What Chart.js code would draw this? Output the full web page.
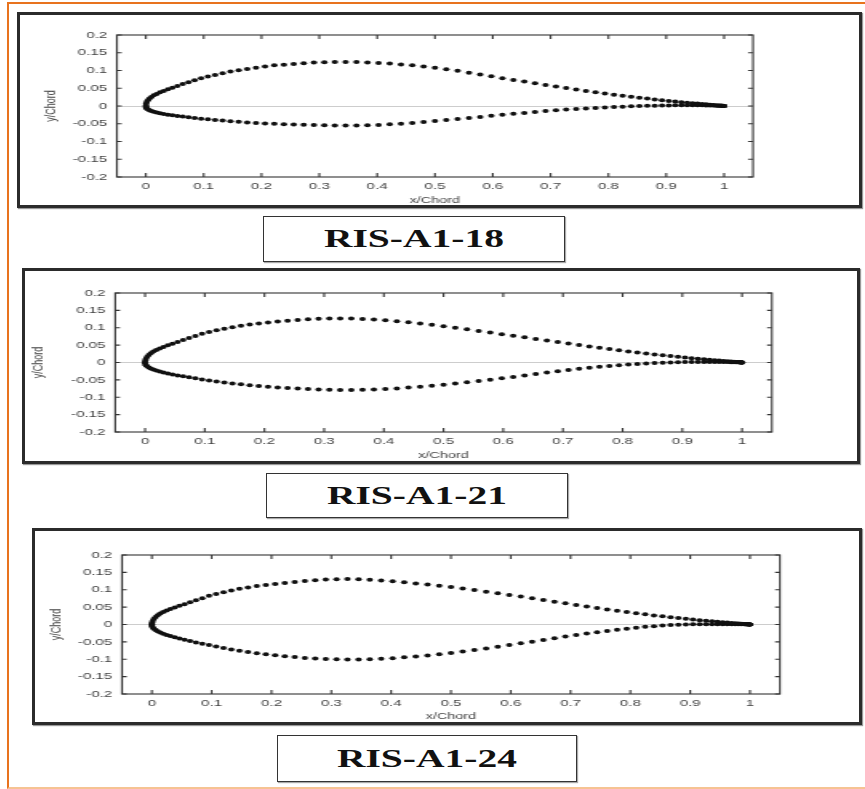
<!DOCTYPE html>
<html><head><meta charset="utf-8">
<script src="https://cdn.jsdelivr.net/npm/chart.js@4"></script>
<style>
body{margin:0;background:#fff;width:865px;height:789px;position:relative;overflow:hidden;font-family:"Liberation Sans",Arial,sans-serif}
.frame{position:absolute;left:7px;top:2px;width:870px;height:783px;border-left:2px solid #E8731E;border-top:2px solid #E8731E;border-bottom:2px solid #F6C393}
.panel{position:absolute;box-sizing:border-box;border:3px solid #2b2b2b;box-shadow:1px 1px 1px #999;background:#fff}
.cv{position:absolute;left:0;top:0;transform:scaleX(1.6);transform-origin:0 0}
.lab{position:absolute;box-sizing:border-box;border:1.5px solid #333;box-shadow:1px 1px 1px #aaa;background:#fff;display:flex;align-items:center;justify-content:center}
.lab span{display:inline-block;font-family:"Liberation Serif","Times New Roman",serif;font-weight:bold;font-size:25px;transform:scaleX(1.58);color:#111}
</style></head>
<body>
<div class="frame"></div>
<div class="panel" style="left:17px;top:12px;width:845px;height:196px"><div class="cv" style="width:524.4px;height:190px"><canvas id="c1"></canvas></div></div>
<div class="lab" style="left:263px;top:216px;width:302px;height:46px"><span id="t1"></span></div>
<div class="panel" style="left:22px;top:268px;width:838px;height:196px"><div class="cv" style="width:520px;height:190px"><canvas id="c2"></canvas></div></div>
<div class="lab" style="left:266px;top:473px;width:302px;height:45px"><span id="t2"></span></div>
<div class="panel" style="left:32px;top:528px;width:830px;height:197px"><div class="cv" style="width:515px;height:191px"><canvas id="c3"></canvas></div></div>
<div class="lab" style="left:277px;top:735px;width:300px;height:47px"><span id="t3"></span></div>
<script>
const airfoilNames = ['RIS-A1-18','RIS-A1-21','RIS-A1-24'];
const xAxisTitle = 'x/Chord';
const yAxisTitle = 'y/Chord';
const xTickValues = [0,0.1,0.2,0.3,0.4,0.5,0.6,0.7,0.8,0.9,1];
const xTickLabels = ['0','0.1','0.2','0.3','0.4','0.5','0.6','0.7','0.8','0.9','1'];
const yTickValues = [-0.2,-0.15,-0.1,-0.05,0,0.05,0.1,0.15,0.2];
const yTickLabels = ['-0.2','-0.15','-0.1','-0.05','0','0.05','0.1','0.15','0.2'];

const xStations = [0,0.0004,0.0015,0.0035,0.0062,0.0096,0.0138,0.0188,0.0245,0.0309,
0.0381,0.0459,0.0545,0.0638,0.0737,0.0843,0.0955,0.1073,0.1198,0.1328,
0.1464,0.1606,0.1753,0.1905,0.2061,0.2222,0.2388,0.2557,0.2730,0.2907,
0.3087,0.3269,0.3455,0.3643,0.3833,0.4025,0.4218,0.4412,0.4608,0.4804,
0.5,0.5196,0.5392,0.5588,0.5782,0.5975,0.6167,0.6357,0.6545,0.6731,
0.6913,0.7093,0.7270,0.7443,0.7612,0.7778,0.7939,0.8096,0.8247,0.8394,
0.8536,0.8672,0.8802,0.8927,0.9045,0.9157,0.9263,0.9363,0.9455,0.9541,
0.9619,0.9691,0.9755,0.9812,0.9862,0.9904,0.9938,0.9965,0.9985,0.9996,1];

const ris18Upper = [0,0.006,0.011,0.016,0.021,0.0256,0.030,0.034,0.0385,0.0425,
0.047,0.0515,0.0565,0.062,0.067,0.0725,0.078,0.083,0.0875,0.092,
0.097,0.1005,0.104,0.108,0.111,0.1145,0.1165,0.1185,0.1205,0.1222,
0.1232,0.1238,0.124,0.1237,0.1228,0.1213,0.1195,0.1172,0.1145,0.1115,
0.108,0.1035,0.099,0.094,0.089,0.0838,0.0785,0.0735,0.069,0.064,
0.0595,0.055,0.0505,0.0465,0.0425,0.039,0.0355,0.032,0.029,0.026,
0.0233,0.0208,0.0185,0.0163,0.0143,0.0125,0.0108,0.0093,0.008,0.0067,
0.0056,0.0046,0.0037,0.0029,0.0022,0.0016,0.0011,0.0007,0.0004,0.0002,0];
const ris18Lower = [0,-0.004,-0.007,-0.0095,-0.012,-0.0143,-0.0165,-0.0185,-0.0205,-0.0226,
-0.0245,-0.0263,-0.0281,-0.0298,-0.0318,-0.0338,-0.0357,-0.0373,-0.0391,-0.0409,
-0.0428,-0.0446,-0.0462,-0.0477,-0.0491,-0.0503,-0.0513,-0.0522,-0.053,-0.0538,
-0.0544,-0.0548,-0.055,-0.0548,-0.0542,-0.0532,-0.0517,-0.0498,-0.0476,-0.0451,
-0.0424,-0.0396,-0.0367,-0.0338,-0.0308,-0.0278,-0.0249,-0.0221,-0.0194,-0.0168,
-0.0144,-0.0122,-0.0102,-0.0084,-0.0068,-0.0053,-0.004,-0.0028,-0.0018,-0.0009,
-0.0002,0.0004,0.0009,0.0013,0.0016,0.0018,0.0019,0.002,0.002,0.0019,
0.0018,0.0016,0.0014,0.0012,0.001,0.0008,0.0006,0.0004,0.0002,0.0001,0];

const ris21Upper = [0,0.006,0.011,0.0165,0.0215,0.0267,0.0313,0.0357,0.0402,0.0446,
0.0495,0.0542,0.0593,0.0646,0.0702,0.0762,0.0825,0.0875,0.0925,0.0972,
0.1015,0.1055,0.109,0.1122,0.1152,0.1178,0.1202,0.1224,0.1242,0.1256,
0.1266,0.1268,0.1264,0.1254,0.1237,0.1213,0.1186,0.1156,0.1122,0.1083,
0.104,0.0997,0.0954,0.091,0.0864,0.0816,0.0771,0.0725,0.0679,0.0635,
0.0591,0.0548,0.0505,0.0464,0.0425,0.0389,0.0354,0.032,0.0288,0.0259,
0.0233,0.0209,0.0186,0.0163,0.0143,0.0125,0.0108,0.0093,0.008,0.0067,
0.0056,0.0046,0.0037,0.0029,0.0022,0.0016,0.0011,0.0007,0.0004,0.0002,0];
const ris21Lower = [0,-0.0045,-0.008,-0.011,-0.0141,-0.0172,-0.02,-0.0229,-0.0256,-0.0285,
-0.0315,-0.0345,-0.0373,-0.0399,-0.0427,-0.0456,-0.0486,-0.0515,-0.0544,-0.0572,
-0.0602,-0.0628,-0.0652,-0.0675,-0.0698,-0.0716,-0.0734,-0.075,-0.0763,-0.0775,
-0.0784,-0.0788,-0.079,-0.0786,-0.0777,-0.0763,-0.0745,-0.0723,-0.0697,-0.0669,
-0.064,-0.0606,-0.0571,-0.0534,-0.0496,-0.0456,-0.0414,-0.0373,-0.0331,-0.0291,
-0.0253,-0.0217,-0.0183,-0.0153,-0.0125,-0.0099,-0.0076,-0.0057,-0.0041,-0.0027,
-0.0016,-0.0007,0.0001,0.0007,0.0011,0.0013,0.0015,0.0015,0.0015,0.0014,
0.0013,0.0012,0.0011,0.0009,0.0007,0.0006,0.0004,0.0003,0.0002,0.0001,0];

const ris24Upper = [0,0.006,0.011,0.0165,0.0215,0.0267,0.0313,0.0357,0.0402,0.0446,
0.0492,0.0537,0.0586,0.064,0.0695,0.0752,0.0825,0.0878,0.0928,0.0978,
0.1026,0.1068,0.1105,0.1138,0.1168,0.1197,0.1224,0.125,0.1273,0.1292,
0.1304,0.1308,0.1302,0.1288,0.1268,0.1243,0.1214,0.1183,0.115,0.1115,
0.108,0.1035,0.0991,0.0946,0.0899,0.085,0.0803,0.0754,0.0706,0.0658,
0.0611,0.0564,0.0519,0.0476,0.0435,0.0396,0.0359,0.0324,0.0292,0.0262,
0.0235,0.021,0.0186,0.0164,0.0144,0.0125,0.0108,0.0093,0.008,0.0067,
0.0056,0.0046,0.0037,0.0029,0.0022,0.0016,0.0011,0.0007,0.0004,0.0002,0];
const ris24Lower = [0,-0.005,-0.009,-0.0125,-0.0161,-0.0196,-0.0232,-0.0266,-0.0299,-0.0334,
-0.0366,-0.0401,-0.0438,-0.0476,-0.0516,-0.0554,-0.0592,-0.0632,-0.0674,-0.0716,
-0.0758,-0.0794,-0.0827,-0.0858,-0.0885,-0.0912,-0.0938,-0.0961,-0.0979,-0.0994,
-0.1003,-0.1006,-0.1005,-0.0997,-0.0984,-0.0968,-0.0944,-0.0919,-0.0891,-0.0857,
-0.082,-0.0779,-0.0736,-0.0691,-0.0643,-0.0593,-0.0543,-0.0493,-0.0443,-0.0395,
-0.0348,-0.0303,-0.026,-0.0221,-0.0184,-0.015,-0.0119,-0.0091,-0.0067,-0.0047,
-0.003,-0.0017,-0.0007,0,0.0005,0.0008,0.001,0.001,0.001,0.001,
0.0009,0.0008,0.0007,0.0006,0.0005,0.0004,0.0003,0.0002,0.0001,0,0];

const FONT = '"Liberation Sans", Arial, sans-serif';

const boxTicks = {
  id: 'boxTicks',
  afterDatasetsDraw(chart, args, o) {
    const {ctx, chartArea: a, scales: {x, y}} = chart;
    ctx.save();
    ctx.strokeStyle = o.color; ctx.lineWidth = o.width;
    ctx.strokeRect(a.left, a.top, a.right - a.left, a.bottom - a.top);
    ctx.beginPath();
    x.ticks.forEach(t => {
      const p = x.getPixelForValue(t.value);
      ctx.moveTo(p, a.bottom); ctx.lineTo(p, a.bottom - o.lenX);
      ctx.moveTo(p, a.top); ctx.lineTo(p, a.top + o.lenX);
    });
    y.ticks.forEach(t => {
      const p = y.getPixelForValue(t.value);
      ctx.moveTo(a.left, p); ctx.lineTo(a.left + o.lenY, p);
      ctx.moveTo(a.right, p); ctx.lineTo(a.right - o.lenY, p);
    });
    ctx.stroke();
    ctx.restore();
  }
};

function build(id, upper, lower, g) {
  const pts = arr => xStations.map((x, i) => ({x: x, y: arr[i]}));
  new Chart(document.getElementById(id), {
    type: 'scatter',
    data: {datasets: [
      {data: pts(upper), backgroundColor: '#111', borderWidth: 0, pointRadius: 2, pointHoverRadius: 2},
      {data: pts(lower), backgroundColor: '#111', borderWidth: 0, pointRadius: 2, pointHoverRadius: 2}
    ]},
    plugins: [boxTicks],
    options: {
      responsive: true, maintainAspectRatio: false, animation: false, events: [],
      layout: {padding: {left: 0, right: g.right, top: g.top, bottom: 0}},
      plugins: {legend: {display: false}, tooltip: {enabled: false},
        boxTicks: {color: '#333', width: 1.1, lenX: 4, lenY: 3}},
      scales: {
        x: {type: 'linear', min: -0.05, max: 1.05,
          afterBuildTicks: s => { s.ticks = xTickValues.map(v => ({value: v})); },
          afterFit: s => { s.height = g.xh; },
          grid: {display: false, drawTicks: false}, border: {display: false},
          ticks: {padding: 4, autoSkip: false, maxRotation: 0, color: '#444', font: {size: 9.5, family: FONT},
            callback: (v, i) => xTickLabels[i]},
          title: {display: true, text: xAxisTitle, color: '#444', font: {size: 9, family: FONT}, padding: {top: 0, bottom: g.xtp}}
        },
        y: {type: 'linear', min: -0.2, max: 0.2,
          afterBuildTicks: s => { s.ticks = yTickValues.map(v => ({value: v})); },
          afterFit: s => { s.width = g.yw; },
          grid: {drawTicks: false, lineWidth: 1, color: c => (c.tick && c.tick.value === 0) ? '#cdcdcd' : 'rgba(0,0,0,0)'},
          border: {display: false},
          ticks: {padding: 6, autoSkip: false, color: '#444', font: {size: 9.5, family: FONT},
            callback: (v, i) => yTickLabels[i]},
          title: {display: true, text: yAxisTitle, color: '#444', font: {size: 9, family: FONT}, padding: {top: g.ytp, bottom: 0}}
        }
      }
    }
  });
}

build('c1', ris18Upper, ris18Lower, {yw: 60.6, right: 66.3, top: 20, xh: 28, ytp: 14, xtp: -1});
build('c2', ris21Upper, ris21Lower, {yw: 56.4, right: 53.2, top: 22, xh: 29, ytp: 3.3, xtp: 0});
build('c3', ris24Upper, ris24Lower, {yw: 54.4, right: 49.4, top: 24, xh: 28, ytp: 7.7, xtp: 0});
document.getElementById('t1').textContent = airfoilNames[0];
document.getElementById('t2').textContent = airfoilNames[1];
document.getElementById('t3').textContent = airfoilNames[2];
</script>
</body></html>
